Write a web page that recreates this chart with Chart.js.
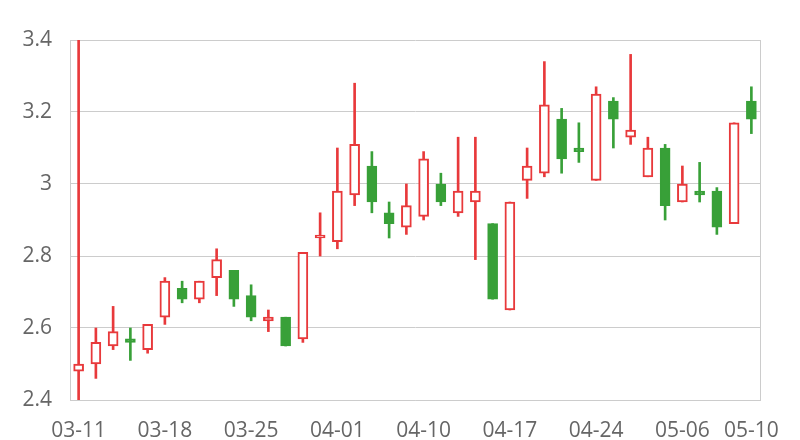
<!DOCTYPE html>
<html>
<head>
<meta charset="utf-8">
<script src="https://cdn.jsdelivr.net/npm/chart.js@4"></script>
<style>
  html, body { margin: 0; padding: 0; background: #fff; }
  #grafico { display: block; }
</style>
</head>
<body>
<canvas id="grafico" width="800" height="440"></canvas>
<script>
// Fechas de cada sesion (eje x)
const fechas = ['03-11', '03-12', '03-13', '03-14', '03-15', '03-18', '03-19', '03-20', '03-21', '03-22',
  '03-25', '03-26', '03-27', '03-28', '03-29', '04-01', '04-02', '04-03', '04-08', '04-09',
  '04-10', '04-11', '04-12', '04-15', '04-16', '04-17', '04-18', '04-19', '04-22', '04-23',
  '04-24', '04-25', '04-26', '04-29', '04-30', '05-06', '05-07', '05-08', '05-09', '05-10'];

// Valores
const aperturas = [2.48, 2.50, 2.55, 2.57, 2.54, 2.63, 2.71, 2.68, 2.74, 2.76,
  2.69, 2.62, 2.63, 2.57, 2.85, 2.84, 2.97, 3.05, 2.92, 2.88,
  2.91, 3.00, 2.92, 2.95, 2.89, 2.65, 3.01, 3.03, 3.18, 3.10,
  3.01, 3.23, 3.13, 3.02, 3.10, 2.95, 2.98, 2.98, 2.89, 3.23];
const cierres = [2.50, 2.56, 2.59, 2.56, 2.61, 2.73, 2.68, 2.73, 2.79, 2.68,
  2.63, 2.63, 2.55, 2.81, 2.85, 2.98, 3.11, 2.95, 2.89, 2.94,
  3.07, 2.95, 2.98, 2.98, 2.68, 2.95, 3.05, 3.22, 3.07, 3.09,
  3.25, 3.18, 3.15, 3.10, 2.94, 3.00, 2.97, 2.88, 3.17, 3.18];
const maximos = [3.40, 2.60, 2.66, 2.60, 2.61, 2.74, 2.73, 2.73, 2.82, 2.76,
  2.72, 2.65, 2.63, 2.81, 2.92, 3.10, 3.28, 3.09, 2.95, 3.00,
  3.09, 3.03, 3.13, 3.13, 2.89, 2.95, 3.10, 3.34, 3.21, 3.17,
  3.27, 3.24, 3.36, 3.13, 3.11, 3.05, 3.06, 2.99, 3.17, 3.27];
const minimos = [2.40, 2.46, 2.54, 2.51, 2.53, 2.61, 2.67, 2.67, 2.69, 2.66,
  2.62, 2.59, 2.55, 2.56, 2.80, 2.82, 2.94, 2.92, 2.85, 2.86,
  2.90, 2.94, 2.91, 2.79, 2.68, 2.65, 2.96, 3.02, 3.03, 3.06,
  3.01, 3.10, 3.11, 3.02, 2.90, 2.95, 2.95, 2.86, 2.89, 3.14];

// Eje y
const yMin = 2.4;
const yMax = 3.4;
const yPaso = 0.2;

const ROJO = '#e8393b';
const VERDE = '#38a038';
const GRIS = '#cccccc';
const TEXTO = '#666666';

function crearVelas(canvas) {
  var ctx = canvas.getContext('2d');
  var sube = aperturas.map((a, i) => cierres[i] >= a);

  const cuerpos = {
    label: 'cuerpo',
    data: aperturas.map((a, i) => [a, cierres[i]]),
    backgroundColor: sube.map(s => s ? '#ffffff' : VERDE),
    borderColor: sube.map(s => s ? ROJO : VERDE),
    borderWidth: 2,
    borderSkipped: false,
    barThickness: 10,
    minBarLength: 3,
    grouped: false,
    order: 0
  };
  const mechas = {
    label: 'mecha',
    data: minimos.map((m, i) => [m, maximos[i]]),
    backgroundColor: sube.map(s => s ? ROJO : VERDE),
    borderWidth: 0,
    barThickness: 2,
    grouped: false,
    order: 1
  };

  const fuente = { family: "'Open Sans', 'Segoe UI', sans-serif", size: 21 };

  const config = {
    type: 'bar',
    data: { labels: fechas, datasets: [cuerpos, mechas] },
    options: {
      responsive: false,
      animation: false,
      layout: { padding: { top: 40, right: 40, left: 0, bottom: 0 } },
      plugins: {
        legend: { display: false },
        tooltip: { enabled: false }
      },
      scales: {
        x: {
          type: 'category',
          offset: true,
          grid: { display: false },
          border: { display: true, color: GRIS, width: 1 },
          ticks: {
            autoSkip: false,
            maxRotation: 0,
            padding: 10,
            color: TEXTO,
            font: fuente,
            callback: function(value, index) {
              // Solo cada 5 sesiones y la ultima
              if (index % 5 === 0 || index === fechas.length - 1) {
                return fechas[index];
              }
              return '';
            }
          },
          afterFit: function(scale) { scale.height = 40; }
        },
        y: {
          min: yMin,
          max: yMax,
          grid: { color: GRIS, drawTicks: false },
          border: { display: true, color: GRIS },
          ticks: {
            stepSize: yPaso,
            padding: 18,
            color: TEXTO,
            font: fuente,
            callback: function(value) {
              return String(Number(value.toFixed(1))); // "3" en vez de "3.0"
            }
          },
          afterFit: function(scale) { scale.width = 70; }
        },
        // Eje de la derecha solo para dibujar el borde
        y2: {
          position: 'right',
          min: yMin,
          max: yMax,
          grid: { display: false },
          border: { display: true, color: GRIS },
          ticks: { display: false },
          afterFit: function(scale) { scale.width = 0; }
        }
      }
    }
  };

  canvas.chart = new Chart(ctx, config);
}

crearVelas(document.getElementById('grafico'));
</script>
</body>
</html>
